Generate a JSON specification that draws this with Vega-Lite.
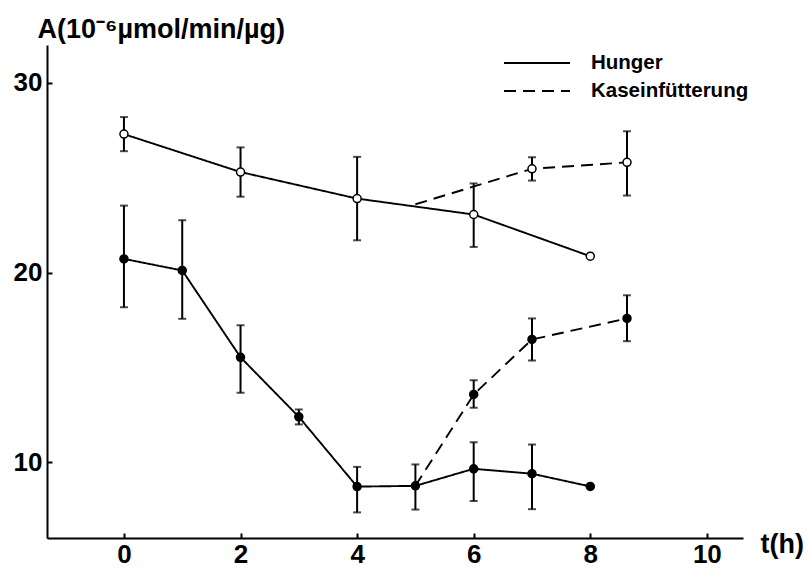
{
  "$schema": "https://vega.github.io/schema/vega-lite/v6.json",
  "width": 696,
  "height": 493,
  "autosize": {"type": "none"},
  "padding": {"left": 47, "top": 45, "right": 65, "bottom": 37},
  "background": "white",
  "config": {
    "view": {"stroke": null},
    "font": "Liberation Sans",
    "axis": {
      "domainColor": "black",
      "domainWidth": 2,
      "tickColor": "black",
      "tickWidth": 2,
      "tickSize": -5,
      "grid": false,
      "labelFont": "Liberation Sans",
      "labelFontWeight": "bold",
      "labelFontSize": 26,
      "labelColor": "black",
      "titleFont": "Liberation Sans",
      "titleFontWeight": "bold",
      "titleFontSize": 27,
      "titleColor": "black"
    }
  },
  "data": {
    "values": [
      {"series": "Hunger", "grp": "open", "t": 0, "a": 27.3, "lo": 26.4, "hi": 28.2},
      {"series": "Hunger", "grp": "open", "t": 2, "a": 25.3, "lo": 24.0, "hi": 26.6},
      {"series": "Hunger", "grp": "open", "t": 4, "a": 23.9, "lo": 21.7, "hi": 26.1},
      {"series": "Hunger", "grp": "open", "t": 6, "a": 23.06, "lo": 21.35, "hi": 24.7},
      {"series": "Hunger", "grp": "open", "t": 8, "a": 20.86, "lo": null, "hi": null},
      {"series": "Hunger", "grp": "filled", "t": 0, "a": 20.72, "lo": 18.17, "hi": 23.53},
      {"series": "Hunger", "grp": "filled", "t": 1, "a": 20.11, "lo": 17.56, "hi": 22.76},
      {"series": "Hunger", "grp": "filled", "t": 2, "a": 15.53, "lo": 13.66, "hi": 17.22},
      {"series": "Hunger", "grp": "filled", "t": 3, "a": 12.39, "lo": 11.99, "hi": 12.78},
      {"series": "Hunger", "grp": "filled", "t": 4, "a": 8.71, "lo": 7.35, "hi": 9.75},
      {"series": "Hunger", "grp": "filled", "t": 5, "a": 8.75, "lo": 7.5, "hi": 9.88},
      {"series": "Hunger", "grp": "filled", "t": 6, "a": 9.65, "lo": 7.95, "hi": 11.05},
      {"series": "Hunger", "grp": "filled", "t": 7, "a": 9.39, "lo": 7.52, "hi": 10.93},
      {"series": "Hunger", "grp": "filled", "t": 8, "a": 8.72, "lo": null, "hi": null},
      {"series": "Kaseinfütterung", "grp": "open", "t": 5, "a": 23.6, "lo": null, "hi": null},
      {"series": "Kaseinfütterung", "grp": "open", "t": 7, "a": 25.47, "lo": 24.85, "hi": 26.08},
      {"series": "Kaseinfütterung", "grp": "open", "t": 8.63, "a": 25.81, "lo": 24.06, "hi": 27.45},
      {"series": "Kaseinfütterung", "grp": "filled", "t": 5, "a": 8.75, "lo": null, "hi": null},
      {"series": "Kaseinfütterung", "grp": "filled", "t": 6, "a": 13.57, "lo": 12.87, "hi": 14.32},
      {"series": "Kaseinfütterung", "grp": "filled", "t": 7, "a": 16.47, "lo": 15.36, "hi": 17.58},
      {"series": "Kaseinfütterung", "grp": "filled", "t": 8.63, "a": 17.58, "lo": 16.38, "hi": 18.8}
    ]
  },
  "encoding": {
    "x": {
      "field": "t",
      "type": "quantitative",
      "scale": {"domain": [-1.32, 10.62], "nice": false, "zero": false},
      "axis": {
        "values": [0, 2, 4, 6, 8, 10],
        "title": "t(h)",
        "titleX": 713,
        "titleY": 6,
        "titleAlign": "left",
        "titleBaseline": "middle",
        "labelPadding": 8,
        "labelFlush": false
      }
    },
    "y": {
      "field": "a",
      "type": "quantitative",
      "scale": {"domain": [6, 32], "nice": false, "zero": false},
      "axis": {
        "values": [10, 20, 30],
        "title": "A(10⁻⁶µmol/min/µg)",
        "titleAngle": 0,
        "titleX": -10,
        "titleY": -8,
        "titleAlign": "left",
        "titleBaseline": "alphabetic",
        "labelPadding": 10,
        "labelFlush": false
      }
    }
  },
  "layer": [
    {
      "mark": {"type": "line", "color": "black", "strokeWidth": 1.9},
      "encoding": {
        "detail": {"field": "grp"},
        "strokeDash": {
          "field": "series",
          "type": "nominal",
          "scale": {"domain": ["Hunger", "Kaseinfütterung"], "range": [[1, 0], [12, 7]]},
          "legend": {
            "title": null,
            "orient": "none",
            "legendX": 478,
            "legendY": 6,
            "symbolType": "M-3,0H3",
            "symbolSize": 484,
            "symbolStrokeWidth": 2,
            "symbolStrokeColor": "black",
            "labelFont": "Liberation Sans",
            "labelFontWeight": "bold",
            "labelFontSize": 20.5,
            "labelColor": "black",
            "labelOffset": 42,
            "rowPadding": 5
          }
        }
      }
    },
    {
      "transform": [{"filter": "isValid(datum.lo)"}],
      "mark": {"type": "rule", "color": "black", "strokeWidth": 2},
      "encoding": {
        "y": {"field": "lo", "type": "quantitative"},
        "y2": {"field": "hi"}
      }
    },
    {
      "transform": [{"filter": "isValid(datum.lo)"}],
      "mark": {"type": "tick", "orient": "horizontal", "size": 8, "thickness": 2, "color": "black"},
      "encoding": {"y": {"field": "lo", "type": "quantitative"}}
    },
    {
      "transform": [{"filter": "isValid(datum.hi)"}],
      "mark": {"type": "tick", "orient": "horizontal", "size": 8, "thickness": 2, "color": "black"},
      "encoding": {"y": {"field": "hi", "type": "quantitative"}}
    },
    {
      "transform": [{"filter": "datum.series == 'Hunger' || datum.t > 5"}],
      "mark": {"type": "point", "shape": "circle", "filled": true, "size": 64, "stroke": "black", "strokeWidth": 1.5, "opacity": 1},
      "encoding": {
        "fill": {
          "condition": {"test": "datum.grp == 'open'", "value": "white"},
          "value": "black"
        }
      }
    }
  ]
}
